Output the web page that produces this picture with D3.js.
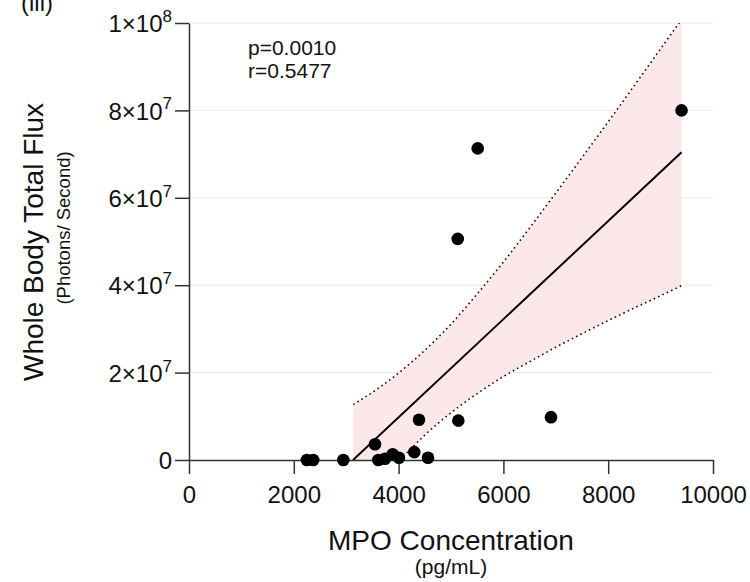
<!DOCTYPE html>
<html>
<head>
<meta charset="utf-8">
<script src="https://cdn.jsdelivr.net/npm/d3@7"></script>
<style>
  body { margin: 0; background: #fff; }
  svg { font-family: "Liberation Sans", Arial, sans-serif; }
</style>
</head>
<body>
<div id="vis"></div>
<script>
// MPO concentration (pg/mL) vs whole body total flux (photons/s)
const mpo  = [2250, 2370, 2945, 3550, 3613, 3740, 3887, 4007, 4299, 4389, 4561, 5128, 5140, 5510, 6908, 9400];
const flux = [0, 0, 0, 3.6e6, 0, 3e5, 1.3e6, 5e5, 1.8e6, 9.2e6, 5e5, 5.06e7, 9.0e6, 7.13e7, 9.8e6, 8.0e7];

// regression line and 95% band
const fitX = [3130, 9400];
const fitY = [0, 7.04e7];
const bandX     = [3136, 3600, 4000, 4500, 5000, 5500, 6000, 6500, 7000, 7500, 8000, 8500, 9000, 9400];
const bandUpper = [1.27e7, 1.63e7, 1.99e7, 2.51e7, 3.11e7, 3.80e7, 4.53e7, 5.31e7, 6.11e7, 6.92e7, 7.74e7, 8.57e7, 9.41e7, 1.008e8];
const bandLower = [-1.25e7, -0.58e7, -0.04e7, 0.57e7, 1.08e7, 1.52e7, 1.91e7, 2.25e7, 2.58e7, 2.89e7, 3.19e7, 3.48e7, 3.76e7, 3.99e7];

const xTicks = [0, 2000, 4000, 6000, 8000, 10000];
const yTicks = [0, 2e7, 4e7, 6e7, 8e7, 1e8];
const yTickMant = ["0", "2", "4", "6", "8", "1"];
const yTickExp  = ["", "7", "7", "7", "7", "8"];

const W = 750, H = 582;
const margin = { top: 23, right: 37, bottom: 122, left: 189 };
const width = W - margin.left - margin.right,
      height = H - margin.top - margin.bottom;

const svg = d3.select("#vis").append("svg")
    .attr("width", W)
    .attr("height", H);

const g = svg.append("g")
    .attr("transform", "translate(" + margin.left + "," + margin.top + ")");

const x = d3.scaleLinear().domain([0, 10000]).range([0, width]);
const y = d3.scaleLinear().domain([0, 1e8]).range([height, 0]);

// grid
g.selectAll(".grid")
    .data(yTicks.slice(1))
    .enter()
    .append("line")
    .attr("x1", 0).attr("x2", width)
    .attr("y1", d => y(d)).attr("y2", d => y(d))
    .attr("stroke", "#e8e8e8")
    .attr("stroke-width", 1);

g.append("clipPath").attr("id", "plotclip")
    .append("rect")
    .attr("x", 0).attr("y", 0)
    .attr("width", width).attr("height", height);

const plot = g.append("g").attr("clip-path", "url(#plotclip)");

// band
const band = bandX.map((d, i) => [d, bandUpper[i], bandLower[i]]);
plot.append("path")
    .datum(band)
    .attr("fill", "#fde8e9")
    .attr("d", d3.area()
        .curve(d3.curveMonotoneX)
        .x(d => x(d[0]))
        .y0(d => y(d[2]))
        .y1(d => y(d[1])));

[1, 2].forEach(k => {
    plot.append("path")
        .datum(band)
        .attr("fill", "none")
        .attr("stroke", "#111")
        .attr("stroke-width", 1.6)
        .attr("stroke-dasharray", "1.6,3.2")
        .attr("d", d3.line()
            .curve(d3.curveMonotoneX)
            .x(d => x(d[0]))
            .y(d => y(d[k])));
});

// fit line
plot.append("path")
    .datum(fitX.map((d, i) => [d, fitY[i]]))
    .attr("fill", "none")
    .attr("stroke", "#000")
    .attr("stroke-width", 2)
    .attr("d", d3.line().x(d => x(d[0])).y(d => y(d[1])));

// axes
const xAxis = g.append("g")
    .attr("transform", "translate(0," + height + ")")
    .call(d3.axisBottom(x).tickValues(xTicks).tickSize(14).tickFormat(d3.format("d")).tickSizeOuter(0));
xAxis.select(".domain").attr("stroke", "#333").attr("stroke-width", 1.5);
xAxis.selectAll(".tick line").attr("stroke", "#333").attr("stroke-width", 1.5);
xAxis.selectAll(".tick text")
    .attr("font-size", 24)
    .attr("fill", "#111")
    .attr("dy", null)
    .attr("y", 43);

const yAxis = g.append("g")
    .call(d3.axisLeft(y).tickValues(yTicks).tickSize(14).tickFormat("").tickSizeOuter(0));
yAxis.select(".domain").attr("stroke", "#333").attr("stroke-width", 1.5);
yAxis.selectAll(".tick line").attr("stroke", "#333").attr("stroke-width", 1.5);

yAxis.selectAll(".tick").each(function (d, i) {
    const t = d3.select(this).append("text")
        .attr("x", -17)
        .attr("dy", "0.36em")
        .attr("text-anchor", "end")
        .attr("font-size", 24)
        .attr("fill", "#111");
    if (yTickExp[i] === "") {
        t.text(yTickMant[i]);
    } else {
        t.append("tspan").text(yTickMant[i] + "\u00d710");
        t.append("tspan").attr("font-size", 17).attr("dy", "-0.6em").text(yTickExp[i]);
    }
});

// points
g.selectAll(".dot")
    .data(mpo.map((d, i) => [d, flux[i]]))
    .enter()
    .append("circle")
    .attr("cx", d => x(d[0]))
    .attr("cy", d => y(d[1]))
    .attr("r", 6.3)
    .attr("fill", "#000");

// stats text
g.append("text")
    .attr("x", 59).attr("y", 32)
    .attr("font-size", 21)
    .attr("fill", "#111")
    .text("p=0.0010");
g.append("text")
    .attr("x", 59).attr("y", 55)
    .attr("font-size", 21)
    .attr("fill", "#111")
    .text("r=0.5477");

// titles
svg.append("text")
    .attr("x", margin.left + width / 2).attr("y", 550)
    .attr("text-anchor", "middle")
    .attr("font-size", 28)
    .attr("fill", "#111")
    .text("MPO Concentration");
svg.append("text")
    .attr("x", margin.left + width / 2).attr("y", 574)
    .attr("text-anchor", "middle")
    .attr("font-size", 21)
    .attr("fill", "#111")
    .text("(pg/mL)");

svg.append("text")
    .attr("transform", "translate(43,242) rotate(-90)")
    .attr("text-anchor", "middle")
    .attr("font-size", 28)
    .attr("fill", "#111")
    .text("Whole Body Total Flux");
svg.append("text")
    .attr("transform", "translate(70,228) rotate(-90)")
    .attr("text-anchor", "middle")
    .attr("font-size", 18.5)
    .attr("fill", "#111")
    .text("(Photons/ Second)");

svg.append("text")
    .attr("x", 21).attr("y", 11)
    .attr("font-size", 24)
    .attr("fill", "#111")
    .text("(iii)");
</script>
</body>
</html>
